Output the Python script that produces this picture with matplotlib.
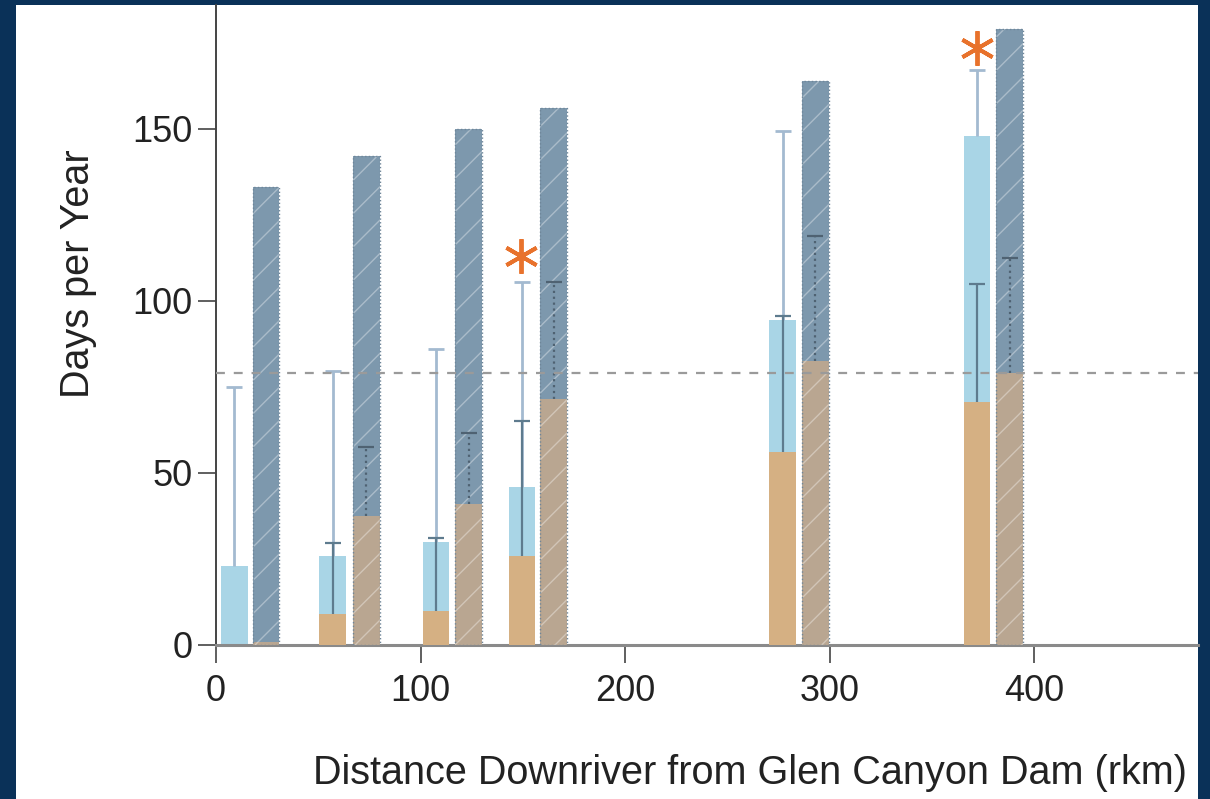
import numpy as np
import matplotlib
matplotlib.use('Agg')
import matplotlib.pyplot as plt
from matplotlib.patches import Rectangle

# distance downriver (rkm) of the two bars in each pair
dist_a = [9, 57, 107.5, 149.5, 277, 372]
dist_b = [24.5, 73.5, 123.5, 165, 293, 388]

# light blue bars: total and tan subset, upper ends of error bars
total_a = [23, 26, 30, 46, 94.5, 148]
sub_a = [0, 9, 10, 26, 56, 70.5]
err_total_a = [75, 79.5, 86, 105.5, 149.5, 167]
err_sub_a = [0, 29.5, 31, 65, 95.5, 105]

# hatched bars: total and tan subset, upper ends of error bars
total_b = [133, 142, 150, 156, 164, 179]
sub_b = [0.8, 37.5, 41, 71.5, 82.5, 79]
err_sub_b = [1, 57.5, 61.5, 105.5, 119, 112.5]

threshold = 79
star_x = [149, 372]
star_y = [113, 173.5]

x_ticks = [0, 100, 200, 300, 400]
y_ticks = [0, 50, 100, 150]

NAVY = '#0a3158'
LBLUE = '#a9d5e6'
TAN = '#d5b083'
SLATE = '#7d98ad'
TAN_B = '#b9a691'
W = 13

plt.rcParams['font.family'] = ['Liberation Sans', 'DejaVu Sans']
plt.rcParams['hatch.linewidth'] = 1.0

fig = plt.figure(figsize=(12.10, 7.99), dpi=100, facecolor=NAVY)
fig.patches.append(Rectangle((16/1210, 0), (1198-16)/1210, (799-5)/799,
                             transform=fig.transFigure, facecolor='white',
                             edgecolor='none', zorder=-5))

ax = fig.add_axes([216/1210, (799-645)/799, (1198-216)/1210, (645-5)/799])
ax.set_zorder(2)
ax.set_facecolor('none')

# light blue bars with tan subset
ax.bar(dist_a, total_a, width=W, color=LBLUE, zorder=2)
ax.bar(dist_a, sub_a, width=W, color=TAN, zorder=3)

# hatched bars
ax.bar(dist_b, total_b, width=W, color=SLATE, zorder=2)
ax.bar(dist_b, sub_b, width=W, color=TAN_B, zorder=3)
ax.bar(dist_b, total_b, width=W, color='none', edgecolor=(1, 1, 1, 0.35),
       hatch='/', linewidth=0, zorder=4)
ax.bar(dist_b, total_b, width=W, color='none', edgecolor='#6f8699',
       linestyle=':', linewidth=1.0, zorder=5)

# error bars of light blue bars
ax.vlines(dist_a, total_a, err_total_a, color='#a3bad0', lw=2.0, zorder=6)
ax.plot(dist_a, err_total_a, ls='none', marker='_', ms=11, mew=2.0,
        color='#a3bad0', zorder=6)
ax.vlines(dist_a[1:], sub_a[1:], err_sub_a[1:], color='#5e7b8e', lw=1.6, zorder=7)
ax.plot(dist_a[1:], err_sub_a[1:], ls='none', marker='_', ms=11, mew=1.6,
        color='#5e7b8e', zorder=7)

# error bars of hatched bars
ax.vlines(dist_b[1:], sub_b[1:], err_sub_b[1:], color='#4f6272', lw=1.6,
          linestyles=':', zorder=7)
ax.plot(dist_b[1:], err_sub_b[1:], ls='none', marker='_', ms=11, mew=1.6,
        color='#4f6272', zorder=7)

ax.axhline(threshold, color='#9a9a9a', lw=1.6, ls=(0, (4, 4)), zorder=8)

ax.plot(star_x, star_y, ls='none', marker=(6, 2, 0), ms=25, mew=2.8,
        color='#e8722c', zorder=9)

ax.set_xlim(0, 480)
ax.set_ylim(0, 186)
ax.set_xticks(x_ticks)
ax.set_yticks(y_ticks)
ax.tick_params(labelsize=26, length=13, width=1.2, color='#444444',
               labelcolor='#222222')
ax.tick_params(axis='x', pad=8)
ax.tick_params(axis='y', pad=4)
for s in ['top', 'right']:
    ax.spines[s].set_visible(False)
ax.spines['left'].set_color('#444444')
ax.spines['left'].set_linewidth(1.4)
ax.spines['bottom'].set_color('#8a8a8a')
ax.spines['bottom'].set_linewidth(2.2)

fig.text(750/1210, 1 - 773/799, 'Distance Downriver from Glen Canyon Dam (rkm)',
         ha='center', va='center', fontsize=28.5, color='#222222')
fig.text(78/1210, 1 - 274/799, 'Days per Year', rotation=90,
         ha='center', va='center', fontsize=28.5, color='#222222')

fig.savefig('out.png', dpi=100, facecolor=NAVY)
